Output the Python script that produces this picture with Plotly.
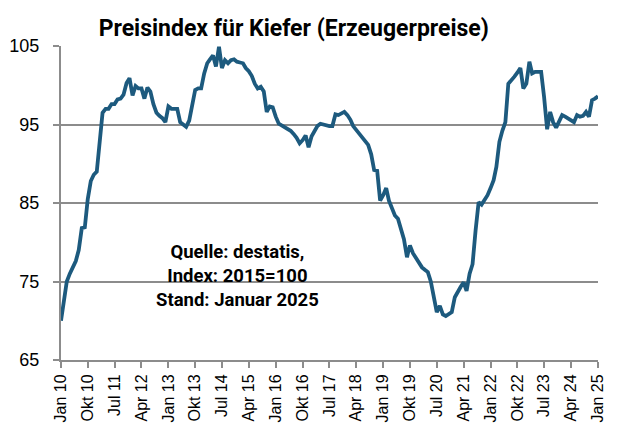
import pandas as pd
import plotly.graph_objects as go

# Erzeugerpreisindex Kiefer, monatlich Jan 2010 - Jan 2025 (2015=100)
months = pd.date_range("2010-01-01", "2025-01-01", freq="MS")
index_values = [
    70.0, 72.5, 75.0, 76.0, 76.8, 77.6, 79.0, 81.8, 81.9, 85.5, 87.8, 88.6,
    89.0, 93.0, 96.5, 97.0, 97.0, 97.6, 97.6, 98.2, 98.3, 98.8, 100.3, 100.9,
    98.7, 99.9, 99.6, 99.6, 98.3, 99.7, 99.2, 97.6, 96.5, 96.1, 95.8, 95.3,
    97.3, 97.0, 97.0, 97.0, 95.3, 95.0, 94.7, 95.5, 97.5, 99.4, 99.6, 99.6,
    101.5, 102.8, 103.3, 103.8, 102.4, 104.9, 102.2, 103.2, 102.8, 103.2, 103.3, 103.0,
    102.9, 102.8, 102.2, 101.8, 101.2, 100.2, 99.6, 99.8, 99.2, 96.6, 97.3, 97.2,
    96.0, 95.1, 94.9, 94.7, 94.5, 94.2, 93.8, 93.3, 92.6, 93.0, 93.6, 92.1,
    93.5, 94.3, 94.8, 95.1, 95.0, 94.8, 94.8, 94.8, 96.3, 96.2, 96.4, 96.6,
    96.2, 95.6, 94.8, 94.3, 93.9, 93.4, 93.0, 92.4, 91.2, 89.2, 89.1, 85.3,
    86.0, 86.9, 85.3, 84.4, 83.4, 83.0, 81.5, 80.4, 78.1, 79.6, 78.6, 78.0,
    77.3, 76.8, 76.5, 76.2, 75.0, 73.0, 71.1, 71.9, 70.8, 70.6, 70.9, 71.1,
    73.0, 73.8, 74.3, 74.9, 73.8, 76.0, 77.2, 81.5, 85.1, 84.8, 85.4, 86.0,
    86.9, 87.9, 89.6, 92.8, 94.2, 95.3, 100.2, 100.6, 101.1, 101.6, 102.2, 99.6,
    100.2, 103.0, 101.5, 101.7, 101.7, 101.7, 98.5, 94.4, 96.6, 95.3, 94.6, 95.4,
    96.2, 96.0, 95.8, 95.5, 95.3, 96.2, 96.0, 96.1, 96.6, 96.0, 98.1, 98.3,
    98.6,
]
tick_dates = months[::9]
tick_labels = ["Jan 10", "Okt 10", "Jul 11", "Apr 12", "Jan 13", "Okt 13", "Jul 14",
               "Apr 15", "Jan 16", "Okt 16", "Jul 17", "Apr 18", "Jan 19", "Okt 19",
               "Jul 20", "Apr 21", "Jan 22", "Okt 22", "Jul 23", "Apr 24", "Jan 25"]
y_ticks = [65, 75, 85, 95, 105]

bold_font = "Roboto, Arial, sans-serif"
grid_grey = "#8c8c8c"

fig = go.Figure(go.Scatter(x=months, y=index_values, mode="lines",
                           line=dict(color="#1d5a7e", width=3.8), showlegend=False))

# page adds an 8px body margin, so the figure is a bit smaller than the window
fig.update_layout(
    width=608, height=424,
    margin=dict(l=53, r=18, t=38, b=72, autoexpand=False),
    paper_bgcolor="white", plot_bgcolor="white",
    title=dict(text="<b>Preisindex für Kiefer (Erzeugerpreise)</b>",
               x=0.47, xanchor="center", y=0.953, yanchor="middle",
               font=dict(family=bold_font, size=23, color="black")),
    font=dict(family="Liberation Sans, Arial, sans-serif", color="black"),
)
fig.update_xaxes(
    range=[months[0], months[-1]],
    tickvals=tick_dates, ticktext=tick_labels, tickangle=-90,
    tickfont=dict(size=16), ticks="outside", ticklen=6, tickcolor=grid_grey, tickwidth=2,
    showgrid=False, showline=True, linecolor=grid_grey, linewidth=2, zeroline=False,
)
fig.update_yaxes(
    range=[65, 105], tickvals=y_ticks, tickfont=dict(size=18),
    showgrid=True, gridcolor=grid_grey, gridwidth=2,
    showline=True, linecolor=grid_grey, linewidth=2, zeroline=False,
    ticks="outside", ticklen=6, tickcolor=grid_grey, tickwidth=2, ticklabelstandoff=10,
)
fig.add_annotation(
    text="<b>Quelle: destatis,<br>Index: 2015=100<br>Stand: Januar 2025</b>",
    xref="paper", yref="paper", x=0.328, y=0.268, xanchor="center", yanchor="middle",
    showarrow=False, align="center",
    font=dict(family=bold_font, size=18.5, color="black"),
)

fig.write_html("out.html")
